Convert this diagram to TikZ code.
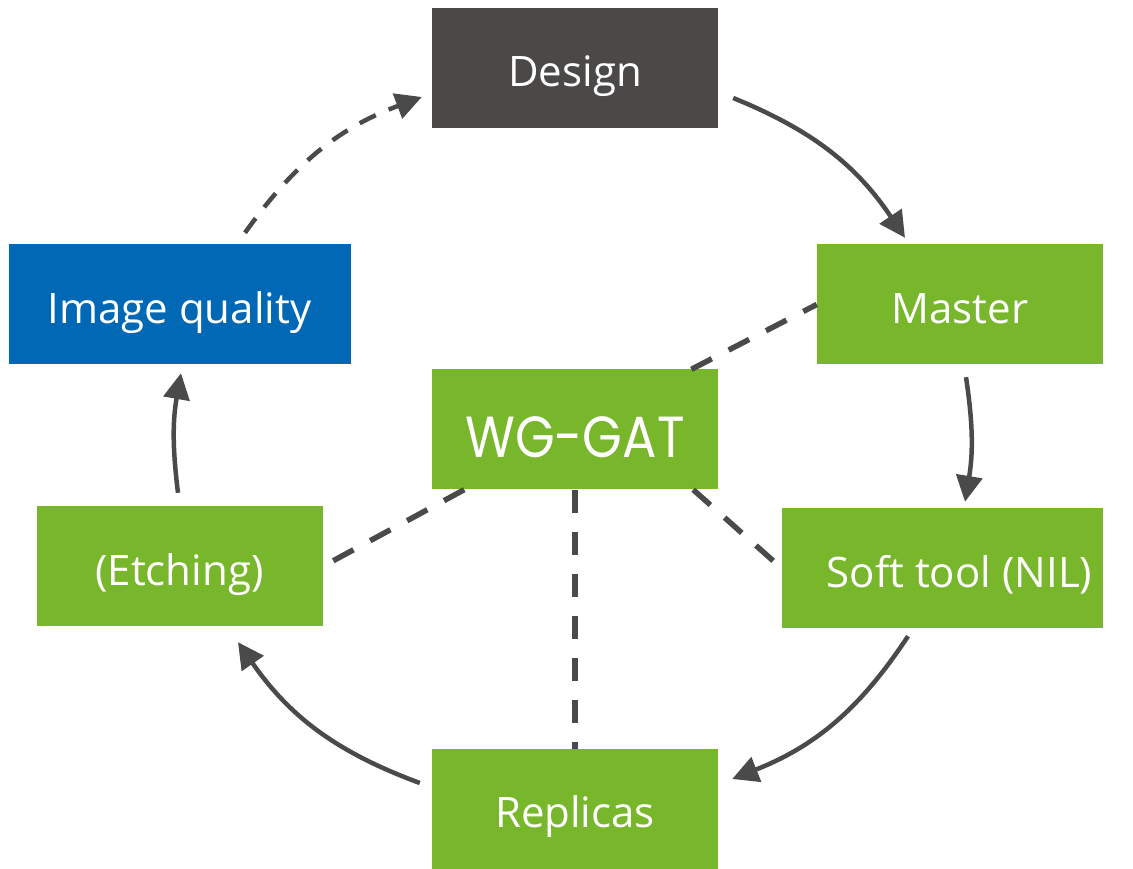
\documentclass[tikz,border=0pt]{standalone}
\usepackage{fontspec}
\setmainfont{Open Sans}
\newfontfamily\gatfont[FakeStretch=0.88]{Poppins}
\usepackage{tikz}
\usetikzlibrary{arrows.meta}
\definecolor{designgray}{HTML}{4A4948}
\definecolor{linegray}{HTML}{4A4A4A}
\definecolor{stepgreen}{HTML}{78B72B}
\definecolor{iqblue}{HTML}{0068B4}
\tikzstyle{box} = [rectangle,minimum width=286pt,minimum height=120pt,inner sep=0pt,text=white,text height=41pt,text depth=3pt,font=\fontsize{42}{50}\selectfont]
\tikzstyle{greenbox} = [box,fill=stepgreen]
\tikzstyle{arrow} = [line width=4.5pt,draw=linegray,-{Triangle[length=26pt,width=26pt]}]
\tikzstyle{link} = [line width=5.5pt,draw=linegray,dash pattern=on 23pt off 19pt]

\begin{document}
\begin{tikzpicture}[x=1pt,y=1pt]
				\useasboundingbox (0,0) rectangle (1133,869);
				%Nodes
				\node [box,fill=designgray] (design) at (575,801) {Design};
				\node [greenbox] (master) at (960,564.5) {Master};
				\node [box,fill=iqblue,minimum width=342pt] (iq) at (179.5,564.5) {Image quality};
				\node [greenbox,text height=58pt,text depth=2pt,font=\gatfont\fontsize{58}{64}\selectfont] (wg) at (575,439.5) {WG-GAT};
				\node [greenbox] (etch) at (179.5,302.5) {(Etching)};
				\node [greenbox,minimum width=321pt] (soft) at (942.5,300.5) {\hspace*{34pt}Soft tool (NIL)};
				\node [greenbox] (rep) at (575,60) {Replicas};
				
				%Lines
				\draw[link] (wg) -- (master.west);
				\draw[link] (wg) -- (etch.east);
				\draw[link] ([xshift=-25pt]wg.south east) -- (soft.west);
				\draw[link] (wg) -- (rep);
				
				%Cycle
				\draw[arrow] ([shift={(15,-30)}]design.east) to[bend left=17] ([shift={(-55,6.5)}]master.north);
				\draw[arrow] ([shift={(6,-12.5)}]master.south) to[bend left=9] ([shift={(22.5,6.5)}]soft.north);
				\draw[arrow] ([shift={(-34.5,-7.5)}]soft.south) to[bend left=17.5] ([shift={(14,30)}]rep.east);
				\draw[arrow] ([shift={(-12,26)}]rep.west) to[bend left=17.5] ([shift={(58.5,-15.5)}]etch.south);
				\draw[arrow] ([shift={(-1.5,13.5)}]etch.north) to[bend left=8.6] ([shift={(1.5,-8.5)}]iq.south);
				\draw[arrow,dash pattern=on 18pt off 14pt] ([shift={(65.5,11.5)}]iq.north) to[bend left=17] ([shift={(-10,-29)}]design.west);
			\end{tikzpicture}
\end{document}
